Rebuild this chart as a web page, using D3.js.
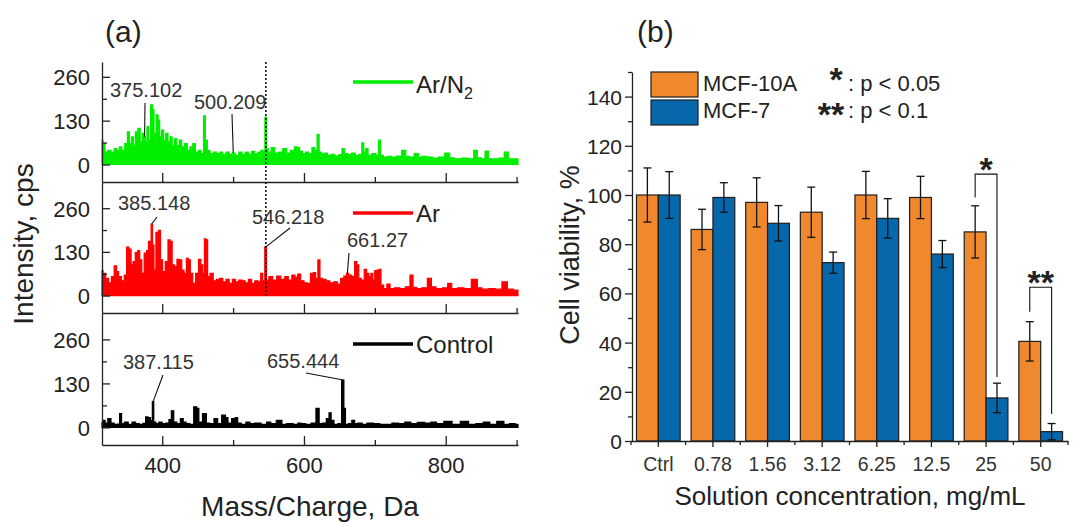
<!DOCTYPE html>
<html>
<head>
<meta charset="utf-8">
<script src="https://cdn.jsdelivr.net/npm/d3@7"></script>
<style>
  html, body { margin: 0; padding: 0; background: #fff; }
  svg { display: block; }
</style>
</head>
<body>
<svg id="chart" width="1090" height="522"></svg>
<script>
// ---------------- data: panel (a) mass spectra ----------------
const spectrumNames = ["Ar/N2", "Ar", "Control"];

const mzArN2 = [315, 317.7, 320.9, 325.4, 329.9, 334.4, 337.5, 341.2, 344.8, 349.3, 352.4, 354.7, 358.3, 360.5, 363.7,
  367.3, 370.5, 373.6, 375.1, 377.3, 379.5, 381.7, 385.4, 387, 389.8, 393, 395.3, 397.5, 400.7, 403.4, 406.5, 409.7,
  412.4, 415.6, 418.7, 422.3, 425.9, 429.1, 433.6, 437.2, 441.3, 444.9, 448.5, 453, 456.6, 459.8, 462, 465.2, 469.7,
  474.2, 478.7, 483.2, 487.7, 492.2, 496.7, 500.2, 505.7, 510.3, 514.8, 519.3, 523.8, 528.3, 532.8, 537.3, 541, 543.5,
  546.2, 548, 551, 556.7, 561.2, 566.6, 573.4, 577.9, 583.7, 589.2, 592, 595.5, 600, 604.5, 609, 613.5, 616.7, 620.3,
  622.5, 627, 630.2, 636, 640.5, 646.4, 651.8, 655.4, 658.5, 664.3, 669.7, 675, 680, 683.2, 685.5, 688.6, 692.2, 699,
  703.5, 706.6, 709.3, 714.7, 720.1, 726.3, 734, 741.8, 745.4, 752.1, 758.8, 764, 771.2, 778, 785.7, 793.5, 803.8,
  807.4, 816.7, 827.1, 836.4, 842.6, 846.7, 852.9, 858.1, 862.2, 871, 878.7, 886.5, 890.1, 896, 902];
const intArN2 = [72, 62, 37, 42, 37, 47, 42, 52, 42, 62, 97, 62, 82, 57, 97,
  107, 67, 92, 82, 65, 112, 72, 177, 162, 92, 147, 132, 82, 102, 72, 92, 67,
  82, 57, 77, 57, 72, 52, 62, 42, 52, 62, 37, 42, 32, 144, 72, 42, 32,
  37, 32, 37, 30, 37, 30, 34, 27, 37, 30, 37, 30, 39, 32, 37, 42, 38,
  140, 47, 37, 50, 34, 37, 47, 34, 42, 52, 50, 40, 32, 37, 32, 50, 42, 89,
  37, 32, 34, 27, 30, 25, 29, 47, 32, 30, 34, 27, 30, 64, 37, 47, 27, 32,
  27, 72, 27, 22, 24, 22, 25, 42, 24, 22, 32, 22, 24, 22, 19, 22, 34,
  20, 17, 19, 17, 42, 20, 17, 40, 17, 17, 19, 37, 17, 17, 17];

const mzAr = [315, 318, 322.2, 326.7, 329.9, 334.4, 336.7, 340.3, 344.8, 348, 351.5, 354.7, 357.4, 360.1, 363.7,
  366.9, 369.6, 372.7, 376.3, 379.5, 381.7, 383.5, 385.1, 387.5, 389.2, 393, 396.2, 398.9, 402, 406.5, 409.7, 412.4,
  415.6, 419.2, 422.3, 425.9, 429.1, 432.3, 435.9, 438.1, 441.3, 444.9, 449.4, 453, 456.1, 458.4, 460.7, 462.9, 465.2,
  469.7, 474.2, 478.7, 483.2, 487.7, 492.2, 496.7, 501.2, 505.7, 510.3, 514.8, 519.3, 523.8, 528.3, 532.8, 537.3, 540.5,
  543.2, 546.2, 548, 553, 558.5, 564.4, 570.2, 575.6, 580.1, 585.6, 589.2, 592.8, 597.8, 602.3, 606.8, 611.3, 614.9,
  618, 621.2, 623.9, 628.4, 633.8, 639.2, 645, 649.5, 654, 658.5, 661.3, 665.2, 669.7, 673.3, 676, 678.7, 683.2, 686.8,
  690, 693.2, 695.8, 698.5, 701.2, 704.8, 707.1, 710.2, 714.7, 719.2, 723.7, 731.5, 739, 747, 752.1, 755.7, 762.5,
  770.2, 778, 781.6, 790.9, 800.2, 805.4, 811.6, 821.9, 829.6, 842.6, 846.7, 855.5, 865.8, 873.6, 885, 889.1, 902];
const intAr = [74, 66, 51, 38, 56, 88, 71, 56, 44, 61, 144, 138, 91, 101, 128,
  134, 106, 66, 126, 134, 161, 150, 213, 150, 76, 188, 194, 106, 71, 101, 166, 161,
  91, 86, 108, 106, 76, 66, 111, 106, 66, 36, 66, 108, 91, 66, 169, 166, 56,
  66, 44, 48, 51, 41, 48, 36, 48, 41, 46, 44, 38, 48, 36, 44, 41, 66,
  44, 145, 46, 56, 46, 58, 48, 56, 46, 61, 54, 64, 44, 38, 36, 66, 68,
  51, 106, 51, 48, 44, 38, 41, 34, 51, 58, 66, 61, 56, 101, 91, 51, 46, 78,
  66, 56, 66, 46, 74, 76, 78, 31, 21, 34, 21, 23, 21, 26, 61, 24, 21,
  23, 51, 26, 21, 23, 36, 21, 23, 21, 48, 23, 19, 21, 19, 41, 19, 16];

const mzControl = [315, 317.7, 321, 325.4, 329.9, 334.4, 338.5, 341.2, 344, 349.3, 354.7, 360.1, 364.6, 370.5, 375,
  378.1, 382, 385, 387.1, 389, 393, 397.5, 402, 407.9, 411, 414.7, 417.8, 423.4, 427.7, 431.4, 435.9, 441.7, 447.1,
  450.3, 453, 460.7, 463.8, 469.7, 476.4, 480, 487.7, 490.9, 494.5, 501.2, 504.8, 508, 514.8, 521.5, 526, 535, 544,
  550.8, 555.3, 566.6, 571.1, 580.1, 589.2, 593.7, 597.8, 606.8, 613.5, 620.3, 622.5, 629.3, 633.8, 636.9, 639.7, 645,
  650.8, 655.4, 657.2, 659.9, 665.2, 669.7, 673.3, 678.7, 685.5, 692.2, 703.5, 710.2, 719.2, 728.9, 737.7, 747, 754.6,
  765, 775.3, 783.1, 790.9, 803.8, 814.1, 827.1, 837.4, 847.7, 858.1, 866.4, 877.7, 886.5, 894, 902];
const intControl = [14, 21, 13, 26, 13, 9, 10, 41, 11, 16, 9, 16, 11, 9, 12,
  31, 29, 20, 76, 16, 11, 16, 11, 13, 23, 49, 16, 11, 26, 16, 11, 9, 61,
  56, 16, 41, 13, 11, 26, 11, 36, 29, 13, 26, 29, 13, 9, 16, 11, 13, 9,
  16, 11, 21, 9, 11, 9, 13, 11, 9, 13, 56, 11, 13, 26, 43, 21, 9,
  11, 140, 56, 9, 11, 21, 11, 13, 9, 13, 11, 9, 9, 13, 11, 16, 11,
  15, 13, 16, 11, 18, 9, 18, 9, 11, 16, 9, 18, 9, 11, 9];

const massTicks = [400, 600, 800];
const massMinorTicks = [500, 700, 900];
const intensityTicks = [0, 130, 260];
const intensityMinorTicks = [65, 195];

// labelled peaks (row index, m/z)
const peakRows = [0, 0, 1, 1, 1, 2, 2];
const peakMz = [375.102, 500.209, 385.148, 546.218, 661.27, 387.115, 655.444];
const markerMz = 546.218;

// ---------------- data: panel (b) cell viability ----------------
const concentrations = ["Ctrl", "0.78", "1.56", "3.12", "6.25", "12.5", "25", "50"];
const cellLines = ["MCF-10A", "MCF-7"];
const viabilityMCF10A = [100, 86, 97, 93, 100, 99, 85, 40.5];
const errorMCF10A = [11, 8.2, 10, 10.2, 9.6, 8.6, 10.6, 8];
const viabilityMCF7 = [100, 99, 88.5, 72.5, 90.5, 76, 17.5, 3.8];
const errorMCF7 = [9.5, 6, 7.2, 4.3, 8, 5.5, 6, 3.3];
const viabilityTicks = [0, 20, 40, 60, 80, 100, 120, 140];
const viabilityMinorTicks = [10, 30, 50, 70, 90, 110, 130, 150];

// significance brackets: left leg end, bar height, right leg end (in %)
const sigConc = ["25", "50"];
const sigMarks = ["*", "**"];
const sigLeft = [99, 52.5];
const sigTop = [108.5, 62.5];
const sigRight = [26, 11];
const sigLegendMarks = ["*", "**"];
const sigLegendText = [": p < 0.05", ": p < 0.1"];

// ---------------- drawing ----------------
const FONT = '"Liberation Sans", Arial, Helvetica, sans-serif';
const ink = "#222";
const svg = d3.select("#chart").attr("font-family", FONT);
svg.append("rect").attr("width", 1090).attr("height", 522).attr("fill", "#fff");

function styleAxis(g, fontSize) {
  g.attr("font-size", fontSize).attr("font-family", FONT);
  g.selectAll("text").attr("fill", ink);
  g.selectAll("line, path").attr("stroke", ink).attr("stroke-width", 1.3);
}

function addName(textSel, name) {
  const m = name.match(/^(.*N)(\d)$/);
  if (m) {
    textSel.append("tspan").text(m[1]);
    textSel.append("tspan").attr("font-size", 16).attr("dy", 6).text(m[2]);
  } else {
    textSel.text(name);
  }
}

// ===== panel (a) =====
const spectrumColors = ["#00ee00", "#ff0000", "#000000"];
const spectra = [
  { mz: mzArN2, val: intArN2 },
  { mz: mzAr, val: intAr },
  { mz: mzControl, val: intControl }
];
const rows = [
  { top: 62, bottom: 182, max: 304 },
  { top: 182, bottom: 313, max: 338 },
  { top: 313, bottom: 445, max: 338 }
];
const yFloor = -52;
const xA = d3.scaleLinear().domain([315, 902]).range([102, 518]);
const gA = svg.append("g");

spectra.forEach((s, i) => {
  const r = rows[i];
  const y = d3.scaleLinear().domain([yFloor, r.max]).range([r.bottom, r.top]);
  s.y = y;
  const pts = s.mz.map((m, j) => [m, s.val[j]]);
  const area = d3.area()
    .x(d => xA(d[0]))
    .y0(y(0))
    .y1(d => y(d[1]))
    .curve(d3.curveStep);
  gA.append("path")
    .attr("d", area(pts))
    .attr("fill", spectrumColors[i])
    .attr("stroke", spectrumColors[i])
    .attr("stroke-width", 1.2)
    .attr("stroke-linejoin", "miter");

  // intensity axis (ticks pointing into the plot)
  const ya = gA.append("g").attr("transform", `translate(${xA.range()[0]},0)`)
    .call(d3.axisLeft(y).tickValues(intensityTicks).tickSizeInner(-8).tickSizeOuter(0).tickPadding(12));
  styleAxis(ya, 22);
  ya.selectAll("text").attr("dy", "0.36em");
  const ym = gA.append("g").attr("transform", `translate(${xA.range()[0]},0)`)
    .call(d3.axisLeft(y).tickValues(intensityMinorTicks).tickSizeInner(-5).tickSizeOuter(0).tickFormat(""));
  styleAxis(ym, 22);
  ym.select(".domain").remove();

  // mass axis at the bottom of each strip
  const xa = gA.append("g").attr("transform", `translate(0,${r.bottom})`)
    .call(d3.axisBottom(xA).tickValues(massTicks).tickSizeInner(-9).tickSizeOuter(0).tickPadding(12)
      .tickFormat(i === 2 ? d3.format("d") : ""));
  styleAxis(xa, 22);
  const xm = gA.append("g").attr("transform", `translate(0,${r.bottom})`)
    .call(d3.axisBottom(xA).tickValues(massMinorTicks).tickSizeInner(-5).tickSizeOuter(0).tickFormat(""));
  styleAxis(xm, 22);
  xm.select(".domain").remove();
});

// dotted marker across the upper two spectra
gA.append("line")
  .attr("x1", xA(markerMz)).attr("x2", xA(markerMz))
  .attr("y1", rows[0].top).attr("y2", spectra[1].y(0))
  .attr("stroke", "#000").attr("stroke-width", 1.5).attr("stroke-dasharray", "2,2");

// legends of the spectra
const legendA = [{ y: 82, base: 93 }, { y: 213, base: 222 }, { y: 344, base: 353 }];
spectrumNames.forEach((name, i) => {
  gA.append("line").attr("x1", 353).attr("x2", 413).attr("y1", legendA[i].y).attr("y2", legendA[i].y)
    .attr("stroke", spectrumColors[i]).attr("stroke-width", 3.5);
  const t = gA.append("text").attr("x", 416).attr("y", legendA[i].base)
    .attr("font-size", 24).attr("fill", ink);
  addName(t, name);
});

// peak annotations with leader lines
const peakLayout = [
  { tx: 110, ty: 97, lx: 145, ly: 103 },
  { tx: 194, ty: 109, lx: 232, ly: 114 },
  { tx: 118, ty: 210, lx: 157, ly: 217 },
  { tx: 252, ty: 224, lx: 290, ly: 228 },
  { tx: 347, ty: 247, lx: 349, ly: 253 },
  { tx: 123, ty: 369, lx: 163, ly: 375 },
  { tx: 267, ty: 368, lx: 306, ly: 373 }
];
function valueAt(s, m) {
  let best = 0, bd = Infinity;
  s.mz.forEach((v, j) => { const d = Math.abs(v - m); if (d < bd) { bd = d; best = j; } });
  return s.val[best];
}
peakMz.forEach((m, i) => {
  const s = spectra[peakRows[i]];
  const L = peakLayout[i];
  gA.append("line")
    .attr("x1", L.lx).attr("y1", L.ly)
    .attr("x2", xA(m)).attr("y2", s.y(valueAt(s, m)))
    .attr("stroke", "#111").attr("stroke-width", 1.1);
  gA.append("text").attr("x", L.tx).attr("y", L.ty)
    .attr("font-size", 20).attr("fill", "#333").text(String(m));
});

gA.append("text").attr("x", 105).attr("y", 42).attr("font-size", 30).attr("fill", ink).text("(a)");
gA.append("text").attr("x", (xA.range()[0] + xA.range()[1]) / 2).attr("y", 516)
  .attr("text-anchor", "middle").attr("font-size", 28).attr("fill", ink).text("Mass/Charge, Da");
gA.append("text").attr("transform", "translate(33,244) rotate(-90)")
  .attr("text-anchor", "middle").attr("font-size", 28).attr("fill", ink).text("Intensity, cps");

// ===== panel (b) =====
const barColors = ["#f0882d", "#0767ab"];
const xB = d3.scaleBand().domain(concentrations).range([631, 1068]).paddingInner(0.2).paddingOuter(0.1);
const xSub = d3.scaleBand().domain(cellLines).range([0, xB.bandwidth()]);
const yB = d3.scaleLinear().domain([0, 150]).range([441, 72]);
const gB = svg.append("g");

const barData = [];
concentrations.forEach((c, i) => {
  barData.push({ c, line: cellLines[0], v: viabilityMCF10A[i], e: errorMCF10A[i], k: 0 });
  barData.push({ c, line: cellLines[1], v: viabilityMCF7[i], e: errorMCF7[i], k: 1 });
});

gB.selectAll("rect.bar").data(barData).join("rect")
  .attr("class", "bar")
  .attr("x", d => xB(d.c) + xSub(d.line))
  .attr("y", d => yB(d.v))
  .attr("width", xSub.bandwidth())
  .attr("height", d => yB(0) - yB(d.v))
  .attr("fill", d => barColors[d.k])
  .attr("stroke", "#1e1e1e").attr("stroke-width", 1.2);

const eb = gB.selectAll("g.err").data(barData).join("g").attr("class", "err")
  .attr("transform", d => `translate(${xB(d.c) + xSub(d.line) + xSub.bandwidth() / 2},0)`);
eb.append("line").attr("x1", 0).attr("x2", 0)
  .attr("y1", d => yB(d.v - d.e)).attr("y2", d => yB(d.v + d.e));
eb.append("line").attr("x1", -4).attr("x2", 4)
  .attr("y1", d => yB(d.v + d.e)).attr("y2", d => yB(d.v + d.e));
eb.append("line").attr("x1", -4).attr("x2", 4)
  .attr("y1", d => yB(d.v - d.e)).attr("y2", d => yB(d.v - d.e));
eb.selectAll("line").attr("stroke", "#111").attr("stroke-width", 1.3);

// axes
const yaB = gB.append("g").attr("transform", `translate(${xB.range()[0] + 1},0)`)
  .call(d3.axisLeft(yB).tickValues(viabilityTicks).tickSizeInner(7).tickSizeOuter(0).tickPadding(3));
styleAxis(yaB, 21);
yaB.selectAll("text").attr("dy", "0.36em");
const ymB = gB.append("g").attr("transform", `translate(${xB.range()[0] + 1},0)`)
  .call(d3.axisLeft(yB).tickValues(viabilityMinorTicks).tickSizeInner(4).tickSizeOuter(0).tickFormat(""));
styleAxis(ymB, 21);
ymB.select(".domain").remove();

const xaB = gB.append("g").attr("transform", `translate(0,${yB(0)})`)
  .call(d3.axisBottom(xB).tickSizeInner(6).tickSizeOuter(0).tickPadding(10));
styleAxis(xaB, 19.5);
xaB.selectAll("text").attr("fill", "#333");
// minor ticks half-way between categories
const half = xB.step() / 2;
const minorX = [xB(concentrations[0]) + xB.bandwidth() / 2 - half]
  .concat(concentrations.map(c => xB(c) + xB.bandwidth() / 2 + half));
gB.selectAll("line.minor").data(minorX).join("line").attr("class", "minor")
  .attr("x1", d => d).attr("x2", d => d).attr("y1", yB(0)).attr("y2", yB(0) + 4)
  .attr("stroke", ink).attr("stroke-width", 1.3);

// significance brackets
sigConc.forEach((c, i) => {
  const xl = xB(c) + xSub(cellLines[0]) + xSub.bandwidth() / 2;
  const xr = xB(c) + xSub(cellLines[1]) + xSub.bandwidth() / 2;
  gB.append("path")
    .attr("d", `M${xl},${yB(sigLeft[i])}V${yB(sigTop[i])}H${xr}V${yB(sigRight[i])}`)
    .attr("fill", "none").attr("stroke", "#111").attr("stroke-width", 1.1);
  gB.append("text").attr("x", (xl + xr) / 2).attr("y", yB(sigTop[i]) + 7)
    .attr("text-anchor", "middle").attr("font-size", 34).attr("font-weight", "bold")
    .attr("fill", ink).text(sigMarks[i]);
});

// legend
const legB = [{ y: 72, base: 91 }, { y: 100, base: 118 }];
cellLines.forEach((name, i) => {
  gB.append("rect").attr("x", 651).attr("y", legB[i].y).attr("width", 47).attr("height", 25)
    .attr("fill", barColors[i]).attr("stroke", "#1e1e1e").attr("stroke-width", 1.2);
  gB.append("text").attr("x", 703).attr("y", legB[i].base).attr("font-size", 22)
    .attr("fill", ink).text(name);
});
const starPos = [{ x: 836, base: 91 }, { x: 831, base: 126 }];
sigLegendMarks.forEach((m, i) => {
  gB.append("text").attr("x", starPos[i].x).attr("y", starPos[i].base)
    .attr("text-anchor", "middle").attr("font-size", 34).attr("font-weight", "bold")
    .attr("fill", ink).text(m);
  gB.append("text").attr("x", 848).attr("y", legB[i].base).attr("font-size", 22)
    .attr("fill", ink).text(sigLegendText[i]);
});

gB.append("text").attr("x", 637).attr("y", 42).attr("font-size", 30).attr("fill", ink).text("(b)");
gB.append("text").attr("x", 850).attr("y", 505).attr("text-anchor", "middle")
  .attr("font-size", 26).attr("fill", ink).text("Solution concentration, mg/mL");
gB.append("text").attr("transform", "translate(579,255) rotate(-90)")
  .attr("text-anchor", "middle").attr("font-size", 27).attr("fill", ink).text("Cell viability, %");
</script>
</body>
</html>
